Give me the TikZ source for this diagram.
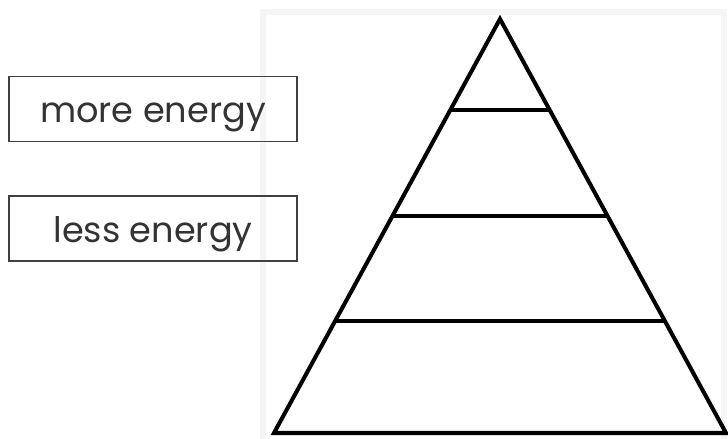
\documentclass[tikz,border=0pt]{standalone}
\usepackage{fontspec}
\setmainfont{Poppins}
\usetikzlibrary{positioning, calc}

\begin{document}
\begin{tikzpicture}[
        x=0.02cm, y=-0.02cm,
        labelbox/.style={rectangle, draw=black!75, line width=0.8pt, minimum width=5.76cm, minimum height=1.3cm, inner sep=0pt, text height=15.8pt, text depth=0pt, font=\fontsize{20}{24}\selectfont, text=black!80},
        tier/.style={line width=2.3pt, line join=miter},
        panel/.style={draw=black!4, line width=3pt, fill=white},
    ]
        \useasboundingbox (0,0) rectangle (728,439);

        % Background panel
        \draw[panel] (263,12) rectangle (724,446);

        % Labels
        \node[labelbox] (more) at (153,109) {more energy};
        \node[labelbox, below=1.06cm of more] (less) {less energy};

        % Pyramid
        \coordinate (apex) at (500,19);
        \coordinate (bl) at (274,433);
        \coordinate (br) at (726,433);
        \draw[tier] (apex) -- (bl) -- (br) -- cycle;

        % Levels
        \foreach \t/\n in {0.22/a, 0.475/b, 0.73/c} {
            \coordinate (l\n) at ($(apex)!\t!(bl)$);
            \coordinate (r\n) at ($(apex)!\t!(br)$);
            \draw[tier] (l\n) -- (r\n);
        }
    \end{tikzpicture}
\end{document}
